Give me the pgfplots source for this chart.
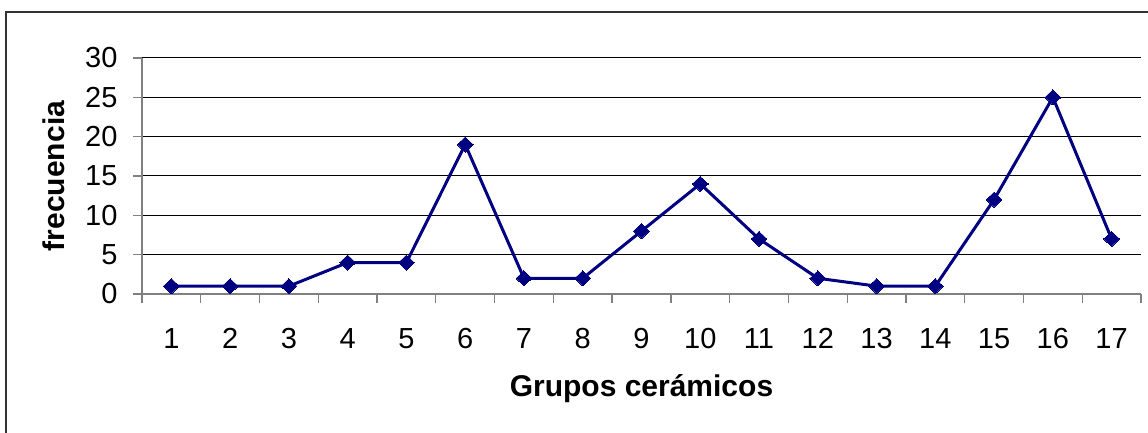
\documentclass[border=0pt]{standalone}
\usepackage{fontspec}
\setmainfont{Liberation Sans}
\usepackage{pgfplots}
\pgfplotsset{compat=1.18}

\definecolor{serie}{RGB}{0,0,128}
\definecolor{eje}{RGB}{128,128,128}

\begin{document}
\begin{tikzpicture}
  % marco exterior (solo lados izquierdo y superior visibles)
  \useasboundingbox (-142pt,-139pt) rectangle (1006pt,294pt);
  \draw[line width=1.3pt, black!80] (-136pt,-139pt) -- (-136pt,282pt) -- (1006pt,282pt);
  \begin{axis}[
    at={(0pt,0pt)}, anchor=origin,
    scale only axis,
    width=999pt, height=236pt,
    xmin=0.5, xmax=17.5,
    ymin=0, ymax=30,
    axis x line*=bottom,
    axis y line*=left,
    axis line style={eje, line width=1.3pt, -},
    xtick={1,...,17},
    minor xtick={0.5,1.5,...,17.5},
    ytick={0,5,...,30},
    tick align=outside,
    x tick style={draw=none},
    minor x tick style={draw=eje, line width=1.3pt},
    y tick style={draw=eje, line width=1.3pt},
    minor tick length=9pt,
    major tick length=9pt,
    ymajorgrids,
    grid style={black, line width=1pt},
    tick label style={font=\fontsize{29}{34}\selectfont},
    /pgf/number format/assume math mode=true,
    xticklabel style={yshift=-22pt},
    yticklabel style={xshift=-12pt},
    xlabel={Grupos cerámicos},
    ylabel={frecuencia},
    label style={font=\fontsize{30}{36}\selectfont\bfseries},
    xlabel style={at={(axis description cs:0.5,-0.4364)}, anchor=base},
    ylabel style={at={(axis description cs:-0.0771,0.5)}, anchor=base, rotate=0},
    clip=false,
  ]
    \addplot[color=serie, line width=3pt, mark=diamond*, mark size=7.5pt,
             mark options={fill=serie, draw=serie, line width=0pt, xscale=1.4}]
      coordinates {
        (1,1) (2,1) (3,1) (4,4) (5,4) (6,19) (7,2) (8,2) (9,8)
        (10,14) (11,7) (12,2) (13,1) (14,1) (15,12) (16,25) (17,7)
      };
  \end{axis}
\end{tikzpicture}
\end{document}
